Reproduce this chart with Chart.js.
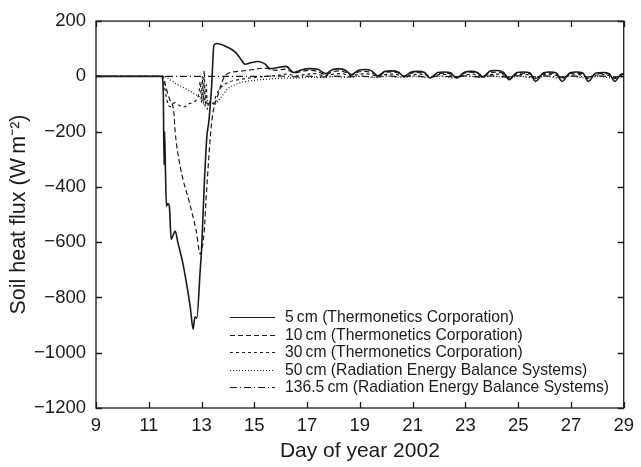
<!DOCTYPE html>
<html>
<head>
<meta charset="utf-8">
<script src="https://cdn.jsdelivr.net/npm/chart.js@4/dist/chart.umd.min.js"></script>
<style>
  body { margin: 0; background: #fff; }
  #wrap { width: 641px; height: 467px; }
</style>
</head>
<body>
<div id="wrap"><canvas id="fluxChart"></canvas></div>
<script>
// series data (day of year, W m-2)
const labels = [
  "5\u2009cm (Thermonetics Corporation)",
  "10\u2009cm (Thermonetics Corporation)",
  "30\u2009cm (Thermonetics Corporation)",
  "50\u2009cm (Radiation Energy Balance Systems)",
  "136.5\u2009cm (Radiation Energy Balance Systems)"
]

const days5 = [9, 11.5, 11.55, 11.58, 11.6, 11.63, 11.67, 11.72, 11.78, 11.85, 11.92, 12.0, 12.1, 12.3, 12.45, 12.58, 12.68, 12.75, 12.82, 12.95, 13.0, 13.1, 13.2, 13.28, 13.38, 13.47, 13.58,
  13.95, 14.28, 14.47, 14.65, 14.9, 15.15, 15.4, 15.6, 15.9, 16.2, 16.5, 16.8, 17.1, 17.4, 17.7, 17.95, 18.2, 18.45, 18.68, 18.95, 19.2, 19.45, 19.68, 19.95, 20.2, 20.45, 20.67,
  20.95, 21.2, 21.45, 21.67, 21.95, 22.2, 22.45, 22.67, 22.95, 23.2, 23.45, 23.67, 23.95, 24.2, 24.45, 24.66, 24.95, 25.2, 25.45, 25.66, 25.95, 26.2, 26.45, 26.66, 26.95,
  27.2, 27.45, 27.66, 27.95, 28.2, 28.45, 28.66, 28.9, 29]
const flux5 = [0, 0, -60, -320, -200, -330, -470, -460, -470, -590, -575, -560, -600, -680, -760, -840, -915, -870, -875, -700, -630, -400, -220, -161, -40, 113, 119,
  107, 88, 65, 44, 50, 54, 45, 28, 32, 36, 14, 24, 28, 26, 10, 24, 27, 22, 6, 22, 25, 20, 2, 18, 20, 16, 0,
  16, 18, 14, -6, 14, 16, 12, -6, 14, 18, 14, -2, 20, 21, 14, -12, 14, 16, 12, -18, 12, 16, 12, -18, 12,
  16, 12, -18, 12, 14, 10, -18, 8, 10]

const days10 = [9, 11.55, 11.65, 11.78, 11.95, 12.0, 12.2, 12.55, 12.8, 12.95, 13.1, 13.2, 13.39, 13.65, 13.84, 14.03, 14.4, 14.9, 15.4, 15.8, 16.2, 16.5, 16.8, 17.1, 17.4, 17.7,
  17.95, 18.2, 18.45, 18.68, 18.95, 19.2, 19.45, 19.68, 19.95, 20.2, 20.45, 20.67, 20.95, 21.2, 21.45, 21.67, 21.95, 22.2, 22.45, 22.67, 22.95, 23.2, 23.45, 23.67,
  23.95, 24.2, 24.45, 24.66, 24.95, 25.2, 25.45, 25.66, 25.95, 26.2, 26.45, 26.66, 26.95, 27.2, 27.45, 27.66, 27.95, 28.2, 28.45, 28.66, 28.9, 29]
const flux10 = [0, 0, -40, -80, -130, -200, -330, -460, -560, -643, -560, -400, -161, -60, -6, 12, 18, 24, 30, 22, 26, 12, 18, 22, 18, 6,
  16, 20, 15, 4, 16, 18, 14, 2, 14, 16, 12, 0, 12, 14, 10, -2, 10, 12, 10, -2, 12, 15, 12, 0,
  14, 15, 10, -6, 10, 12, 8, -8, 10, 12, 8, -8, 10, 12, 8, -8, 10, 10, 8, -8, 6, 8]

const days30 = [9, 11.5, 11.6, 11.7, 11.8, 11.9, 12.0, 12.15, 12.35, 12.5, 12.65, 12.8, 12.9, 12.95, 13.0, 13.03, 13.07, 13.1, 13.14, 13.18, 13.22, 13.28, 13.35, 13.45, 13.55, 13.75,
  14.0, 14.4, 14.9, 15.4, 15.9, 16.2, 16.6, 17.0, 17.3, 17.65, 18.0, 18.3, 18.65, 19.0, 19.3, 19.65, 20.0, 20.3, 20.65, 21.0, 21.3, 21.65, 22.0, 22.3, 22.65, 23.0,
  23.3, 23.65, 24.0, 24.3, 24.65, 25.0, 25.3, 25.65, 26.0, 26.3, 26.65, 27.0, 27.3, 27.65, 28.0, 28.3, 28.65, 29]
const flux30 = [0, 0, -40, -90, -110, -100, -95, -105, -110, -100, -95, -85, -60, -20, -95, 0, -100, 20, -110, -30, -120, -90, -105, -100, -70, -38,
  -22, -12, -5, 0, 4, 8, 2, 8, 10, 2, 8, 10, 2, 8, 9, 1, 7, 8, 0, 6, 8, -1, 6, 7, -1, 6,
  8, 0, 7, 8, -2, 6, 7, -3, 6, 7, -3, 5, 6, -3, 5, 6, -3, 4]

const days50 = [9, 11.55, 12.0, 12.5, 13.0, 13.3, 13.5, 13.7, 14.0, 14.4, 15.0, 15.5, 16.0, 16.6, 17.0, 17.6, 18.0, 18.6, 19.0, 19.6, 20.0, 20.6, 21.0, 21.6,
  22.0, 22.6, 23.0, 23.6, 24.0, 24.6, 25.0, 25.6, 26.0, 26.6, 27.0, 27.6, 28.0, 28.6, 29]
const flux50 = [0, 0, -25, -50, -77, -90, -100, -80, -45, -25, -14, -10, -7, -6, -3, -5, -1, -4, 0, -4, 0, -4, 0, -5,
  0, -5, 1, -4, 1, -5, 0, -6, 0, -6, 0, -6, 0, -6, 0]

const days136 = [9, 15, 16, 16.6, 17, 17.6, 18, 18.6, 19, 19.6, 20, 20.6, 21, 21.6, 22, 22.6, 23, 23.6, 24, 24.6, 25, 25.6, 26, 26.6, 27, 27.6, 28, 28.6, 29]
const flux136 = [0, 0, 1, -2, 1, -2, 1, -2, 1, -2, 2, -2, 2, -2, 2, -2, 2, -2, 2, -2, 2, -2, 2, -2, 2, -2, 2, -2, 2]

const dashes = [[], [5, 3], [3, 3], [1, 2], [7, 3, 1, 3]]
const ink = '#1a1a1a'
const font = 'Liberation Sans, Arial, Helvetica, sans-serif'

function zip(xs, ys) {
    return xs.map((x, i) => ({ x: x, y: ys[i] }))
}

const seriesX = [days5, days10, days30, days50, days136]
const seriesY = [flux5, flux10, flux30, flux50, flux136]

const datasets = labels.map((label, i) => ({
    label: label,
    data: zip(seriesX[i], seriesY[i]),
    borderColor: ink,
    borderWidth: i == 0 ? 1.6 : 1.2,
    borderDash: dashes[i],
    pointRadius: 0,
    fill: false,
    cubicInterpolationMode: 'monotone'
}))

// frame with inward ticks on all four sides
const frameTicks = {
    id: 'frameTicks',
    afterDraw(chart) {
        const ctx = chart.ctx
        const a = chart.chartArea
        const xs = chart.scales.x, ys = chart.scales.y
        ctx.save()
        ctx.strokeStyle = ink
        ctx.lineWidth = 1.3
        ctx.strokeRect(a.left, a.top, a.right - a.left, a.bottom - a.top)
        ctx.beginPath()
        xs.ticks.forEach(t => {
            const px = Math.round(xs.getPixelForValue(t.value)) + 0.5
            ctx.moveTo(px, a.bottom); ctx.lineTo(px, a.bottom - 6)
            ctx.moveTo(px, a.top); ctx.lineTo(px, a.top + 6)
        })
        ys.ticks.forEach(t => {
            const py = Math.round(ys.getPixelForValue(t.value)) + 0.5
            ctx.moveTo(a.left, py); ctx.lineTo(a.left + 6, py)
            ctx.moveTo(a.right, py); ctx.lineTo(a.right - 6, py)
        })
        ctx.stroke()
        ctx.restore()
    }
}

// legend drawn inside the plot, lower right
const innerLegend = {
    id: 'innerLegend',
    afterDraw(chart) {
        const ctx = chart.ctx
        const a = chart.chartArea
        const x0 = a.left + 134, x1 = a.left + 179, tx = a.left + 189
        ctx.save()
        ctx.font = '15.7px ' + font
        ctx.textBaseline = 'middle'
        ctx.fillStyle = ink
        chart.data.datasets.forEach((ds, i) => {
            const y = Math.round(a.bottom - 91 + i * 17.5) + 0.5
            ctx.beginPath()
            ctx.setLineDash(ds.borderDash)
            ctx.strokeStyle = ink
            ctx.lineWidth = 1
            ctx.moveTo(x0, y); ctx.lineTo(x1, y)
            ctx.stroke()
            ctx.setLineDash([])
            ctx.fillText(ds.label, tx, y)
        })
        ctx.restore()
    }
}

new Chart(document.querySelector('#fluxChart'), {
    type: 'line',
    data: { datasets: datasets },
    options: {
        responsive: true,
        maintainAspectRatio: false,
        animation: false,
        layout: { padding: { left: 0, right: 12, top: 19, bottom: 0 } },
        plugins: {
            legend: { display: false },
            tooltip: { enabled: false }
        },
        scales: {
            x: {
                type: 'linear',
                min: 9, max: 29,
                grid: { display: false, drawTicks: false },
                border: { display: false },
                ticks: { stepSize: 2, color: ink, padding: 7, font: { size: 18.5, family: font }, maxRotation: 0 },
                title: { display: true, text: 'Day of year 2002', color: ink, font: { size: 21, family: font }, padding: { top: 2, bottom: 3 } },
                afterFit(scale) { scale.height = 59 }
            },
            y: {
                min: -1200, max: 200,
                grid: { display: false, drawTicks: false },
                border: { display: false },
                ticks: {
                    stepSize: 200, color: ink, padding: 10, font: { size: 18.5, family: font },
                    callback: v => String(v).replace('-', '\u2212')
                },
                title: { display: true, text: 'Soil heat flux (W\u2009m\u207B\u00B2)', color: ink, font: { size: 21.5, family: font }, padding: { top: 6, bottom: 4 } },
                afterFit(scale) { scale.width = 96 }
            }
        }
    },
    plugins: [frameTicks, innerLegend]
})
</script>
</body>
</html>
